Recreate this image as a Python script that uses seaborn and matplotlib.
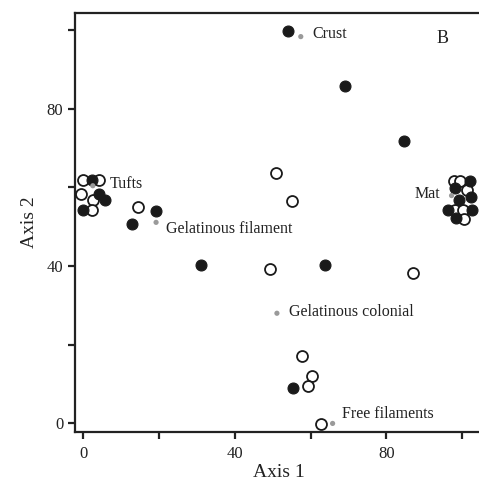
import pandas as pd
import matplotlib
matplotlib.use("Agg")
import matplotlib.pyplot as plt
import seaborn as sns

# site scores
filled_x = [54.1, 69.0, 84.6, 12.8, 19.2, 31.1, 63.8, 55.3,
            2.2, 4.1, 5.7, -0.2,
            102.0, 98.1, 99.1, 102.3, 96.3, 102.5, 98.3]
filled_y = [99.6, 85.8, 71.8, 50.7, 54.1, 40.3, 40.3, 9.0,
            61.9, 58.3, 56.9, 54.3,
            61.7, 59.8, 56.8, 57.6, 54.2, 54.2, 52.2]

open_x = [50.8, 55.1, 49.3, 87.0, 57.7, 60.3, 59.3, 62.7, 14.5,
          -0.2, 4.2, -0.6, 2.6, 2.2,
          97.8, 99.4, 101.4, 98.1, 100.3, 100.5]
open_y = [63.7, 56.5, 39.3, 38.2, 17.2, 12.1, 9.5, -0.1, 55.1,
          61.9, 61.9, 58.4, 56.7, 54.3,
          61.7, 61.7, 59.4, 54.2, 54.2, 52.0]

# growth form centroids
groups = ["Crust", "Tufts", "Gelatinous filament", "Gelatinous colonial",
          "Free filaments", "Mat"]
group_x = [57.4, 2.5, 19.2, 51.1, 65.8, 97.2]
group_y = [98.3, 60.4, 51.1, 28.0, 0.0, 57.9]

filled = pd.DataFrame({"x": filled_x, "y": filled_y})
hollow = pd.DataFrame({"x": open_x, "y": open_y})
cents = pd.DataFrame({"x": group_x, "y": group_y, "name": groups})

sns.set_style("ticks")
plt.rcParams["font.family"] = ["Liberation Serif", "DejaVu Serif"]

fig = plt.figure(figsize=(4.79, 4.86), dpi=100)
ax = fig.add_axes([75 / 479, 1 - 431.7 / 486, 408 / 479, 418.7 / 486])

sns.scatterplot(data=hollow, x="x", y="y", ax=ax, s=62, color="white",
                edgecolor="#1a1a1a", linewidth=1.3, zorder=3)
sns.scatterplot(data=filled, x="x", y="y", ax=ax, s=62, color="#1a1a1a",
                edgecolor="#1a1a1a", linewidth=0.8, zorder=4)
sns.scatterplot(data=cents, x="x", y="y", ax=ax, s=14, color="#9a9a9a",
                edgecolor="none", zorder=5)

# label offsets (points) for each centroid
offsets = {"Crust": (8, 2, "left"), "Tufts": (12.5, 1, "left"),
           "Gelatinous filament": (7, -5, "left"),
           "Gelatinous colonial": (8.5, 1, "left"),
           "Free filaments": (7, 6.5, "left"), "Mat": (-8.5, 1, "right")}
for _, row in cents.iterrows():
    dx, dy, ha = offsets[row["name"]]
    ax.annotate(row["name"], (row["x"], row["y"]), xytext=(dx, dy),
                textcoords="offset points", ha=ha, va="center",
                fontsize=11.5, color="#222222")

ax.text(0.9, 0.94, "B", transform=ax.transAxes, fontsize=13,
        ha="center", va="center", color="#222222")

ax.set_xlim(-2.2, 105.5)
ax.set_ylim(-2.1, 104.3)
ax.set_xticks([0, 20, 40, 60, 80, 100])
ax.set_xticklabels(["0", "", "40", "", "80", ""])
ax.set_yticks([0, 20, 40, 60, 80, 100])
ax.set_yticklabels(["0", "", "40", "", "80", ""])
ax.tick_params(length=5, width=1.6, labelsize=12, colors="#222222")
ax.tick_params(axis="x", pad=5)
ax.tick_params(axis="y", pad=3.5)

for side in ["left", "bottom", "top"]:
    ax.spines[side].set_linewidth(1.6)
    ax.spines[side].set_color("#222222")
ax.spines["right"].set_visible(False)

ax.set_xlabel("Axis 1", fontsize=14, color="#222222", labelpad=2)
ax.set_ylabel("Axis 2", fontsize=14, color="#222222", labelpad=6)

fig.savefig("out.png", dpi=100)
